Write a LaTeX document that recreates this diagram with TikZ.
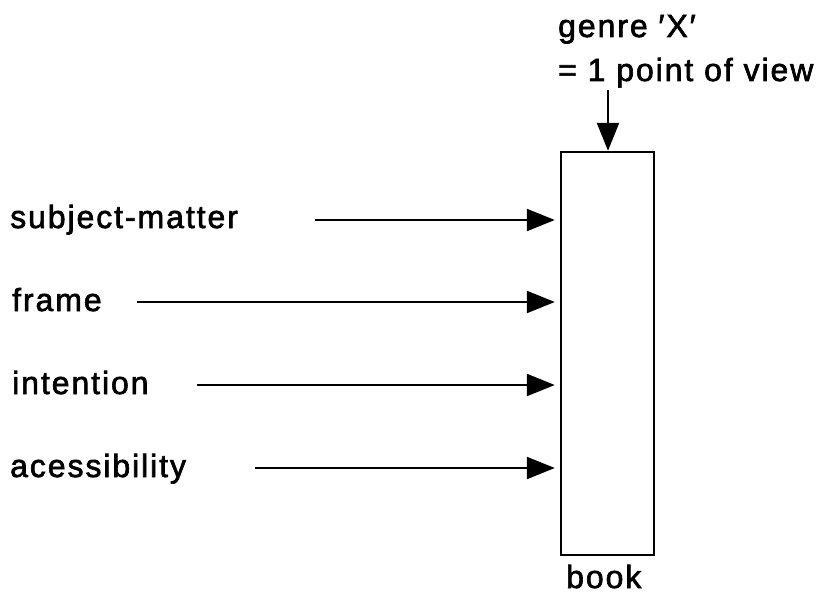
\documentclass[tikz,border=0pt]{standalone}
\usepackage{fontspec}
\setmainfont[LetterSpace=6,FakeBold=2]{Liberation Sans}
\usepackage{tikz}
\usetikzlibrary{arrows.meta,positioning}
\tikzset{
  lbl/.style={anchor=base west, inner sep=0pt, font=\fontsize{32}{36}\selectfont},
  bookbox/.style={draw=black, line width=2.4pt, minimum width=93pt, minimum height=403pt, inner sep=0pt},
  arr/.style={-{Triangle[length=28pt,width=22pt]}, draw=black, line width=2.2pt, shorten >=5pt},
  every picture/.append style={line join=miter}
}
\begin{document}
\begin{tikzpicture}[x=1pt,y=-1pt]
  \useasboundingbox (0,0) rectangle (822,594);
  % the book
  \node[bookbox] (book) at (607.5,353.5) {};
  \node[lbl] (booklbl) at (566,588) {book};
  % genre on top
  \node[lbl] (genre) at (558,37) {genre ′X′};
  \node[lbl] (view) at (558,81) {= 1 point of view};
  \coordinate (gtop) at (608,90);
  \draw[arr, shorten >=0pt] (gtop) -- (gtop |- book.north);
  % the four inputs
  \node[lbl] (subj) at (10,228) {subject-matter};
  \node[lbl] (frame) at (12,311) {frame};
  \node[lbl] (intent) at (12,394) {intention};
  \node[lbl] (access) at (10,477) {acessibility};
  \coordinate (s1) at (315,220);
  \coordinate (s2) at (137,302);
  \coordinate (s3) at (197,385);
  \coordinate (s4) at (255,468);
  \foreach \s in {s1,s2,s3,s4}
    \draw[arr] (\s) -- (\s -| book.west);
\end{tikzpicture}
\end{document}
